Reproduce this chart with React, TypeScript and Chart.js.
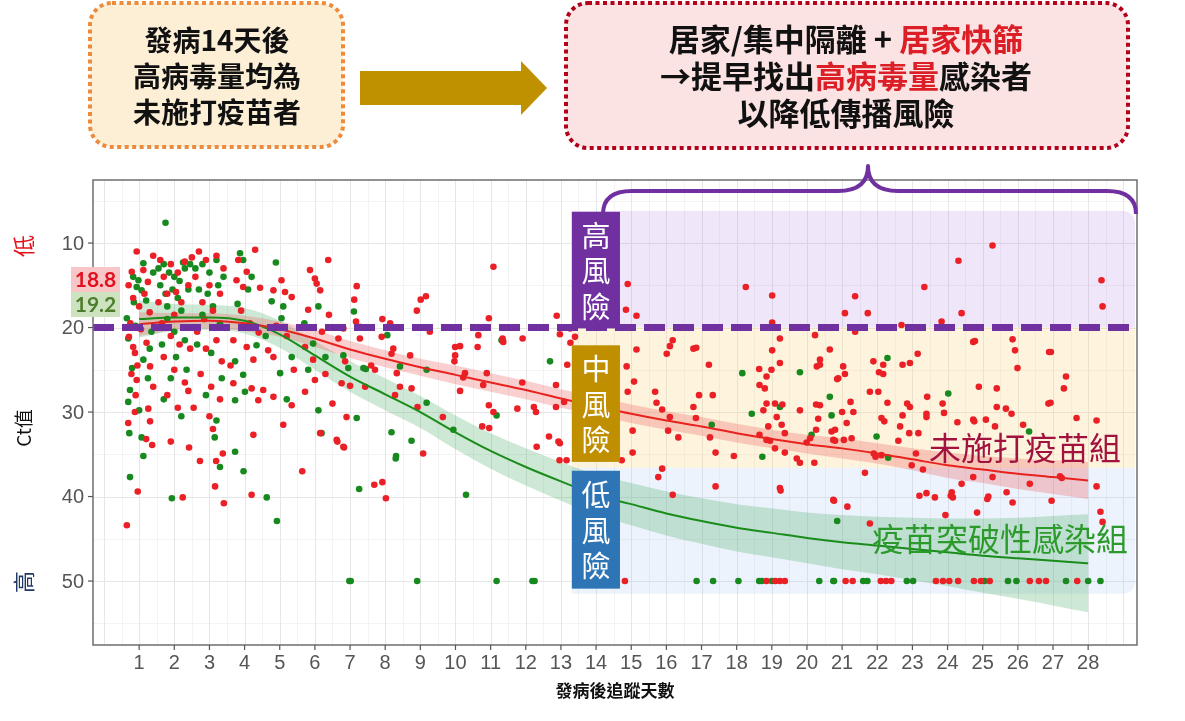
import React, { useEffect, useRef } from "react";
import { Chart, registerables } from "chart.js";

Chart.register(...registerables);

// ---------------- data ----------------
const xTickValues = [1, 2, 3, 4, 5, 6, 7, 8, 9, 10, 11, 12, 13, 14, 15, 16, 17, 18, 19, 20, 21, 22, 23, 24, 25, 26, 27, 28];
const xTickLabels = ["1", "2", "3", "4", "5", "6", "7", "8", "9", "10", "11", "12", "13", "14", "15", "16", "17", "18", "19", "20", "21", "22", "23", "24", "25", "26", "27", "28"];
const yTickValues = [10, 20, 30, 40, 50];
const yTickLabels = ["10", "20", "30", "40", "50"];

// unvaccinated (red) : [day, Ct]
const redPoints = [
  [0.93, 11.0], [1.4, 11.5], [0.79, 13.4], [1.12, 13.2], [1.25, 14.6], [0.83, 16.5], [1.0, 17.5], [0.71, 21.1], [0.83, 22.3], [0.88, 23.0],
  [1.21, 21.8], [1.31, 24.6], [0.93, 26.2], [1.26, 29.6], [0.88, 30.0], [0.69, 31.3], [1.31, 31.1], [1.3, 18.2], [0.75, 19.5], [1.05, 20.2],
  [0.95, 24.5], [1.4, 27.0], [0.65, 43.4], [0.96, 39.4], [1.37, 33.9], [1.2, 33.2], [0.9, 28.0], [0.7, 15.0], [1.15, 16.0], [0.78, 25.5],
  [1.6, 12.0], [1.9, 12.5], [2.3, 12.2], [2.5, 11.7], [1.7, 14.0], [2.1, 13.5], [2.4, 15.0], [1.8, 16.0], [2.2, 17.0], [2.0, 18.5],
  [1.65, 19.5], [2.35, 20.0], [1.9, 21.0], [2.15, 22.0], [2.45, 22.5], [1.7, 23.5], [2.0, 25.0], [2.3, 26.5], [1.8, 28.0], [2.1, 29.5],
  [1.9, 33.5], [2.24, 40.1], [2.42, 34.2], [2.4, 27.5], [1.55, 17.0], [2.05, 15.8],
  [2.7, 11.0], [2.9, 12.0], [3.2, 11.5], [3.4, 13.0], [2.6, 14.0], [3.0, 15.0], [3.3, 16.0], [2.8, 17.0], [3.1, 18.0], [2.65, 20.5],
  [3.2, 21.5], [2.9, 22.5], [3.35, 24.0], [2.75, 25.5], [3.05, 27.0], [3.3, 28.5], [2.73, 35.8], [3.16, 38.8], [3.19, 35.8], [3.38, 34.9],
  [3.41, 40.8], [3.0, 30.5], [2.85, 19.0], [2.55, 29.5], [3.1, 32.0],
  [3.82, 12.0], [4.3, 10.8], [3.77, 14.4], [4.06, 13.4], [3.96, 15.2], [4.44, 15.3], [3.68, 21.5], [4.06, 22.3], [4.25, 23.8], [4.2, 27.2],
  [3.68, 26.6], [4.39, 28.6], [4.25, 32.7], [4.2, 39.8], [3.9, 18.0], [4.15, 19.5], [3.6, 24.5], [4.4, 20.6],
  [4.82, 15.6], [5.05, 14.4], [5.15, 15.8], [5.34, 16.4], [4.82, 23.5], [4.67, 22.7], [4.53, 27.4], [4.82, 28.2], [5.34, 29.2], [5.64, 37.0],
  [5.2, 21.0], [4.9, 19.8], [5.4, 25.0], [5.1, 31.5],
  [5.86, 13.2], [6.0, 14.2], [6.15, 15.6], [6.05, 14.8], [5.81, 17.9], [6.38, 12.0], [5.72, 22.3], [5.95, 23.8], [6.0, 26.2], [5.72, 27.6],
  [6.15, 32.5], [6.2, 20.5], [6.4, 18.5], [6.3, 25.5], [6.64, 33.5], [6.83, 34.2], [6.5, 29.0],
  [7.19, 15.1], [7.12, 16.7], [7.17, 19.3], [7.28, 19.9], [7.28, 21.3], [6.81, 20.1], [6.67, 21.3], [6.86, 24.0], [6.76, 26.6], [7.0, 26.9],
  [7.43, 27.0], [6.9, 30.6], [6.62, 33.3], [6.81, 34.1], [7.69, 38.6], [7.92, 38.3], [8.02, 40.2], [7.6, 24.5],
  [7.92, 19.0], [8.14, 19.5], [7.9, 21.1], [8.23, 22.5], [8.18, 23.1], [8.33, 25.4], [8.42, 27.0], [8.28, 28.0], [8.75, 27.2], [8.71, 23.3],
  [7.71, 25.0], [8.9, 18.0],
  [9.01, 16.7], [9.16, 16.3], [9.08, 34.9], [9.27, 20.5], [8.92, 29.4], [9.64, 30.6],
  [9.99, 22.3], [10.13, 22.2], [9.99, 23.3], [9.97, 24.0], [10.27, 25.4], [10.22, 25.9], [10.13, 27.5], [10.65, 20.9], [10.63, 22.3], [10.89, 25.4],
  [10.79, 26.8],
  [10.95, 29.2], [11.08, 30.0], [10.76, 31.7], [10.96, 31.9], [11.08, 12.8], [10.95, 18.9], [11.34, 21.3], [11.36, 21.7],
  [11.91, 21.3], [11.9, 26.5], [11.76, 29.6], [12.23, 29.4], [12.29, 30.0], [12.31, 34.1], [12.66, 32.9],
  [12.93, 33.5], [12.96, 35.7], [12.86, 26.8], [12.86, 29.4], [12.88, 18.6], [12.97, 20.8], [13.18, 24.4], [13.26, 20.1], [13.4, 21.1], [13.27, 21.8],
  [13.09, 28.8], [12.97, 33.7], [13.16, 35.7],
  [14.73, 35.7], [14.9, 14.85], [14.85, 17.9], [15.15, 18.6], [14.87, 24.6], [15.15, 22.6], [15.08, 26.4], [14.9, 27.6], [15.04, 32.2], [15.04, 34.8],
  [16.18, 21.5], [16.1, 22.2], [16.01, 23.1], [15.68, 27.6], [15.72, 28.9], [15.88, 29.7], [16.1, 30.6], [16.05, 32.2], [16.34, 33.0], [15.88, 36.7],
  [15.77, 37.7], [16.18, 39.8],
  [16.77, 22.5], [16.85, 22.4], [17.21, 24.4], [16.93, 28.0], [17.32, 28.0], [16.77, 29.4], [16.84, 30.7], [17.24, 33.0], [17.4, 34.8], [17.4, 38.8],
  [17.92, 35.2], [18.26, 15.2], [18.64, 24.9], [18.85, 25.8], [18.65, 26.8], [18.8, 27.2], [18.85, 29.0], [18.76, 29.8], [18.9, 31.7], [18.65, 32.7],
  [18.85, 33.3],
  [19.01, 16.2], [19.01, 19.4], [19.23, 21.3], [19.01, 22.7], [18.99, 25.0], [19.23, 24.2], [19.09, 29.0], [19.3, 29.1], [19.14, 30.6], [18.95, 33.4],
  [19.37, 32.5], [19.28, 31.5], [19.09, 34.3], [19.37, 34.8], [19.23, 39.0], [19.25, 39.3], [19.71, 35.5], [19.8, 36.0], [19.8, 29.8],
  [20.21, 36.0], [19.99, 33.6], [20.09, 33.1], [20.26, 32.1], [20.32, 30.8], [20.26, 29.1], [20.37, 29.2], [20.28, 24.6], [20.37, 24.4], [20.37, 23.8],
  [20.65, 22.6], [20.23, 20.9], [20.75, 40.4], [20.86, 26.1], [20.7, 32.3], [20.75, 33.3], [20.8, 33.4], [20.8, 32.1], [20.77, 40.5],
  [21.08, 18.3], [21.37, 16.3], [21.73, 18.3], [21.37, 20.5], [21.03, 24.6], [21.08, 25.5], [20.89, 26.0], [21.24, 28.8], [21.32, 30.0], [21.0, 30.0],
  [21.13, 31.3], [21.27, 33.1], [21.05, 33.3], [21.65, 37.2], [21.15, 41.2], [21.79, 43.2], [21.79, 27.6], [21.89, 24.0],
  [22.17, 24.4], [22.17, 25.5], [22.05, 25.3], [22.03, 27.6], [22.29, 28.9], [22.12, 30.7], [22.2, 31.1], [22.12, 35.1], [21.95, 35.3], [21.9, 34.9],
  [22.69, 19.7], [22.72, 24.4], [22.93, 24.2], [22.72, 30.4], [22.65, 31.7], [22.6, 33.4], [22.91, 32.5], [22.93, 29.4], [22.85, 29.0], [22.98, 36.3],
  [23.34, 15.2], [23.15, 23.1], [23.42, 28.2], [23.4, 30.2], [23.4, 30.6], [23.17, 32.5], [23.1, 34.9], [23.3, 36.8], [23.2, 39.9], [23.4, 39.6],
  [23.64, 40.1], [23.83, 19.3], [23.86, 29.0], [23.9, 30.1], [23.94, 42.2],
  [24.31, 12.1], [24.4, 18.3], [24.09, 39.9], [24.15, 40.1], [24.12, 39.5], [24.4, 38.5], [24.28, 31.2], [24.73, 21.7], [24.78, 21.6], [24.89, 27.0],
  [24.73, 30.9], [24.76, 31.1], [24.73, 37.7], [24.84, 41.9],
  [25.28, 10.3], [25.4, 27.2], [25.4, 29.4], [25.66, 29.6], [25.82, 30.2], [25.09, 30.9], [25.35, 31.7], [25.28, 37.7], [25.13, 40.3], [25.16, 40.0],
  [25.68, 39.5], [25.85, 40.7], [25.85, 21.4],
  [25.92, 22.7], [25.99, 24.8], [26.15, 31.5], [26.34, 38.5], [26.89, 22.9], [26.94, 22.9], [26.87, 29.0], [26.93, 28.9], [26.96, 40.5],
  [27.37, 25.8], [27.31, 27.2], [27.67, 30.7], [27.2, 37.6], [27.25, 37.8], [28.24, 31.0], [28.24, 38.8], [28.35, 41.8], [28.41, 43.0], [28.38, 14.4],
  [28.41, 17.5],
  [14.82, 50], [18.85, 50], [19.1, 50], [19.23, 50], [19.37, 50], [21.1, 50], [21.3, 50], [22.1, 50], [22.25, 50], [22.4, 50],
  [23.67, 50], [23.87, 50], [24.05, 50], [24.3, 50], [24.75, 50], [24.95, 50], [25.2, 50], [26.34, 50], [26.6, 50], [26.8, 50], [27.69, 50],
];

// vaccine breakthrough (green) : [day, Ct]
const greenPoints = [
  [1.12, 12.4], [0.83, 14.0], [0.98, 14.4], [0.93, 15.2], [1.07, 15.6], [1.2, 16.8], [0.65, 18.9], [0.69, 21.3], [1.12, 23.8], [0.74, 27.4],
  [0.69, 28.8], [1.07, 33.0], [0.74, 37.7], [1.12, 35.2], [0.9, 19.8], [1.35, 20.5], [0.8, 24.8], [1.25, 26.0], [0.72, 32.5], [1.0, 29.8],
  [1.3, 22.5], [0.85, 17.0], [1.4, 13.5],
  [1.75, 7.6], [1.55, 13.0], [1.7, 12.5], [1.85, 13.5], [2.0, 14.0], [2.15, 14.5], [2.3, 13.0], [1.6, 15.0], [1.75, 16.0], [1.95, 15.5],
  [2.1, 16.5], [2.4, 15.5], [2.2, 18.0], [1.8, 19.0], [2.0, 20.5], [1.65, 22.0], [2.3, 21.5], [2.05, 23.5], [1.9, 26.0], [2.35, 25.0],
  [1.7, 28.5], [2.2, 30.5], [1.93, 40.2], [2.45, 12.5], [1.8, 17.5], [2.25, 12.3],
  [2.6, 13.0], [2.8, 12.5], [3.0, 13.5], [3.2, 12.0], [3.4, 14.0], [2.7, 15.5], [2.95, 16.0], [3.25, 15.0], [3.1, 17.5], [2.8, 18.5],
  [3.3, 19.5], [2.65, 22.0], [3.05, 23.0], [3.35, 26.0], [2.9, 28.0], [3.2, 31.0], [3.3, 36.5], [3.15, 33.0], [3.73, 34.7],
  [3.87, 11.2], [3.96, 12.0], [4.2, 14.0], [4.1, 15.5], [3.73, 24.0], [3.96, 25.6], [4.01, 27.6], [3.73, 28.6], [4.34, 22.1], [3.97, 37.0],
  [4.63, 40.1], [3.8, 17.2],
  [4.89, 12.3], [4.77, 16.9], [5.1, 17.5], [5.05, 18.9], [5.34, 23.5], [5.01, 25.4], [4.92, 42.9], [4.6, 21.0], [5.2, 28.5],
  [6.1, 17.5], [5.95, 21.9], [5.81, 25.0], [6.1, 29.8], [6.19, 32.5], [5.7, 19.5], [6.3, 23.5],
  [7.11, 18.1], [6.81, 23.3], [6.95, 24.8], [7.38, 24.8], [7.45, 24.9], [7.19, 30.7], [7.26, 39.1], [6.98, 50], [7.02, 50],
  [8.06, 20.9], [8.42, 24.6], [8.18, 32.4], [8.75, 33.4], [8.31, 35.2], [8.3, 35.5], [8.91, 50],
  [9.18, 25.0], [9.18, 28.9], [9.94, 32.1], [10.3, 39.8], [11.31, 21.5], [11.17, 30.4], [12.69, 24.0], [11.17, 50], [12.19, 50], [12.25, 50],
  [18.16, 25.4], [18.43, 30.2], [17.29, 31.5], [18.73, 35.3], [19.23, 29.4], [19.8, 25.3], [20.13, 32.7], [20.65, 28.2], [20.7, 30.4], [20.86, 42.9],
  [22.29, 23.6], [24.02, 27.8], [26.32, 32.3], [21.98, 32.9], [22.31, 35.4],
  [16.86, 50], [17.33, 50], [18.05, 50], [18.64, 50], [18.72, 50], [19.0, 50], [20.35, 50], [20.75, 50], [20.77, 50], [21.6, 50],
  [21.72, 50], [22.84, 50], [23.02, 50], [25.05, 50], [25.72, 50], [25.96, 50], [27.37, 50], [28.0, 50], [28.35, 50],
];

// smoothed fits with confidence bands
const fitDays = [1, 2, 3, 4, 5, 6, 7, 8, 9, 10, 11, 12, 13, 14, 15, 16, 17, 18, 19, 20, 21, 22, 23, 24, 25, 26, 27, 28];
const redFit = [19.6, 19.3, 19.2, 19.5, 20.2, 21.3, 22.6, 23.7, 24.7, 25.6, 26.5, 27.4, 28.4, 29.3, 30.2, 31.0, 31.7, 32.5, 33.2, 33.8, 34.3, 34.9, 35.6, 36.3, 36.8, 37.3, 37.7, 38.1];
const redLo = [18.2, 18.3, 18.3, 18.6, 19.3, 20.3, 21.6, 22.7, 23.7, 24.5, 25.4, 26.3, 27.3, 28.2, 29.1, 29.9, 30.6, 31.4, 32.1, 32.7, 33.1, 33.7, 34.3, 34.8, 35.2, 35.5, 35.7, 35.9];
const redHi = [21.0, 20.3, 20.1, 20.4, 21.1, 22.3, 23.6, 24.7, 25.7, 26.7, 27.6, 28.5, 29.5, 30.4, 31.3, 32.1, 32.8, 33.6, 34.3, 34.9, 35.5, 36.1, 36.9, 37.8, 38.4, 39.1, 39.7, 40.3];
const greenFit = [19.0, 18.8, 18.8, 19.2, 20.8, 23.3, 25.8, 27.9, 30.0, 32.4, 34.6, 36.5, 38.2, 39.8, 40.9, 42.0, 42.9, 43.7, 44.3, 44.9, 45.4, 45.8, 46.2, 46.6, 47.0, 47.3, 47.6, 47.9];
const greenLo = [16.8, 17.2, 17.3, 17.7, 19.2, 21.6, 24.0, 26.0, 28.1, 30.4, 32.5, 34.3, 35.9, 37.4, 38.4, 39.4, 40.2, 40.9, 41.4, 41.9, 42.2, 42.4, 42.5, 42.6, 42.6, 42.5, 42.3, 42.1];
const greenHi = [21.2, 20.4, 20.3, 20.7, 22.4, 25.0, 27.6, 29.8, 31.9, 34.4, 36.7, 38.7, 40.5, 42.2, 43.4, 44.6, 45.6, 46.5, 47.2, 47.9, 48.6, 49.2, 49.9, 50.6, 51.4, 52.1, 52.9, 53.7];

// risk zones (Ct values) and threshold
const thresholdCt = 20;
const riskNames = ["高風險", "中風險", "低風險"];
const riskZoneEdges = [6.2, 20, 36.6, 51.5];
const riskLabelTop = [6.3, 22.1, 36.95];
const riskLabelBottom = [20.1, 35.9, 50.9];
const riskLabelDays = [13.31, 14.68];

// ---------------- styling ----------------
const CJK = '"Noto Sans CJK TC", "Noto Sans CJK SC", sans-serif';
const NUM = '"Liberation Sans", Arial, sans-serif';
const RED = "#ea2026";
const GREEN = "#17891f";
const PURPLE = "#7030a0";
const riskColors = ["#7030a0", "#bf8f00", "#2e75b6"];
const zoneFills = ["rgba(185,140,230,0.22)", "rgba(250,215,130,0.27)", "rgba(170,200,240,0.22)"];

function line(ctx: any, x1: number, y1: number, x2: number, y2: number) {
  ctx.beginPath();
  ctx.moveTo(x1, y1);
  ctx.lineTo(x2, y2);
  ctx.stroke();
}

function drawSegments(ctx: any, cx: number, cy: number, segs: [string, string][]) {
  let total = 0;
  for (const [t] of segs) total += ctx.measureText(t).width;
  let x = cx - total / 2;
  ctx.textAlign = "left";
  ctx.textBaseline = "middle";
  for (const [t, c] of segs) {
    ctx.fillStyle = c;
    ctx.fillText(t, x, cy);
    x += ctx.measureText(t).width;
  }
}

function dottedBox(ctx: any, x: number, y: number, w: number, h: number, r: number, fill: string, stroke: string) {
  ctx.save();
  ctx.beginPath();
  ctx.roundRect(x, y, w, h, r);
  ctx.fillStyle = fill;
  ctx.fill();
  ctx.setLineDash([4, 3.5]);
  ctx.lineWidth = 4;
  ctx.strokeStyle = stroke;
  ctx.stroke();
  ctx.restore();
}

const decorPlugin = {
  id: "decor",
  beforeDatasetsDraw(chart: any) {
    const { ctx, chartArea: a } = chart;
    const xs = chart.scales.x;
    const ys = chart.scales.y;
    ctx.save();
    ctx.fillStyle = "#ffffff";
    ctx.fillRect(a.left, a.top, a.right - a.left, a.bottom - a.top);
    ctx.beginPath();
    ctx.rect(a.left, a.top, a.right - a.left, a.bottom - a.top);
    ctx.clip();
    ctx.lineWidth = 1;
    // minor grid
    ctx.strokeStyle = "#f3f3f3";
    for (let v = 0.5; v < 29.4; v += 1) {
      const p = Math.round(xs.getPixelForValue(v)) + 0.5;
      line(ctx, p, a.top, p, a.bottom);
    }
    for (let v = 5; v < 58; v += 10) {
      const p = Math.round(ys.getPixelForValue(v)) + 0.5;
      line(ctx, a.left, p, a.right, p);
    }
    // major grid
    ctx.strokeStyle = "#e6e6e6";
    for (let v = 0; v < 29.4; v += 1) {
      const p = Math.round(xs.getPixelForValue(v)) + 0.5;
      line(ctx, p, a.top, p, a.bottom);
    }
    for (const v of yTickValues) {
      const p = Math.round(ys.getPixelForValue(v)) + 0.5;
      line(ctx, a.left, p, a.right, p);
    }
    // risk zones
    const zx0 = xs.getPixelForValue(riskLabelDays[0]);
    const zx1 = a.right - 2;
    for (let i = 0; i < 3; i++) {
      const y0 = ys.getPixelForValue(riskZoneEdges[i]);
      const y1 = ys.getPixelForValue(riskZoneEdges[i + 1]);
      ctx.fillStyle = zoneFills[i];
      ctx.beginPath();
      const radii = i === 0 ? [0, 12, 0, 0] : i === 2 ? [0, 0, 12, 0] : 0;
      ctx.roundRect(zx0, y0, zx1 - zx0, y1 - y0, radii);
      ctx.fill();
    }
    ctx.restore();
  },
  afterDatasetsDraw(chart: any) {
    const { ctx, chartArea: a } = chart;
    const xs = chart.scales.x;
    const ys = chart.scales.y;
    ctx.save();
    // threshold dashed line
    const ty = ys.getPixelForValue(thresholdCt);
    ctx.strokeStyle = PURPLE;
    ctx.lineWidth = 7;
    ctx.setLineDash([21, 8]);
    line(ctx, a.left, ty, a.right, ty);
    ctx.setLineDash([]);

    // risk labels
    const lx0 = xs.getPixelForValue(riskLabelDays[0]);
    const lx1 = xs.getPixelForValue(riskLabelDays[1]);
    for (let i = 0; i < 3; i++) {
      const y0 = ys.getPixelForValue(riskLabelTop[i]);
      const y1 = ys.getPixelForValue(riskLabelBottom[i]);
      ctx.fillStyle = riskColors[i];
      ctx.fillRect(lx0, y0, lx1 - lx0, y1 - y0);
      ctx.fillStyle = "#ffffff";
      ctx.font = `29px ${CJK}`;
      ctx.textAlign = "center";
      ctx.textBaseline = "middle";
      const cx = (lx0 + lx1) / 2;
      const cy = (y0 + y1) / 2;
      const chars = Array.from(riskNames[i]);
      chars.forEach((c, k) => ctx.fillText(c, cx, cy + (k - 1) * 35.5 + 1));
    }

    // series labels
    ctx.font = `32px ${CJK}`;
    ctx.textAlign = "center";
    ctx.textBaseline = "middle";
    ctx.fillStyle = "#a3123f";
    ctx.fillText("未施打疫苗組", 1025, 448);
    ctx.fillStyle = "#2b9a2b";
    ctx.fillText("疫苗突破性感染組", 1000, 539);
    ctx.restore();
  },
  afterDraw(chart: any) {
    const { ctx, chartArea: a } = chart;
    const xs = chart.scales.x;
    const ys = chart.scales.y;
    ctx.save();
    // panel border
    ctx.strokeStyle = "#6e6e6e";
    ctx.lineWidth = 1.5;
    ctx.strokeRect(a.left, a.top, a.right - a.left, a.bottom - a.top);

    // ticks
    ctx.strokeStyle = "#555";
    ctx.lineWidth = 1.2;
    ctx.fillStyle = "#555";
    ctx.font = `20px ${NUM}`;
    ctx.textAlign = "center";
    ctx.textBaseline = "middle";
    xTickValues.forEach((v, i) => {
      const p = xs.getPixelForValue(v);
      line(ctx, p, a.bottom, p, a.bottom + 5);
      ctx.fillText(xTickLabels[i], p, a.bottom + 18);
    });
    ctx.textAlign = "right";
    yTickValues.forEach((v, i) => {
      const p = ys.getPixelForValue(v);
      line(ctx, a.left - 5, p, a.left, p);
      ctx.fillText(yTickLabels[i], a.left - 9, p + 1);
    });

    // axis titles
    ctx.fillStyle = "#111";
    ctx.font = `bold 17px ${CJK}`;
    ctx.textAlign = "center";
    ctx.fillText("發病後追蹤天數", (a.left + a.right) / 2, 691);

    const rotText = (t: string, x: number, y: number, font: string, color: string) => {
      ctx.save();
      ctx.translate(x, y);
      ctx.rotate(-Math.PI / 2);
      ctx.font = font;
      ctx.fillStyle = color;
      ctx.textAlign = "center";
      ctx.textBaseline = "middle";
      ctx.fillText(t, 0, 0);
      ctx.restore();
    };
    rotText("低", 24, 246, `22px ${CJK}`, "#e4141e");
    rotText("Ct值", 24, 428, `19px ${CJK}`, "#111");
    rotText("高", 24, 582, `22px ${CJK}`, "#1f3864");

    // 18.8 / 19.2 tags
    ctx.fillStyle = "#f8c6c6";
    ctx.fillRect(71, 267, 49, 25);
    ctx.fillStyle = "#cde3bf";
    ctx.fillRect(71, 292, 49, 25);
    ctx.font = `bold 21px Lato, ${NUM}`;
    ctx.textAlign = "center";
    ctx.textBaseline = "middle";
    ctx.fillStyle = "#e0101e";
    ctx.fillText("18.8", 95.5, 280);
    ctx.fillStyle = "#4d7d2c";
    ctx.fillText("19.2", 95.5, 305);

    // brace
    ctx.strokeStyle = PURPLE;
    ctx.lineWidth = 4;
    ctx.lineJoin = "round";
    ctx.beginPath();
    ctx.moveTo(603, 214);
    ctx.quadraticCurveTo(603, 191, 632, 191);
    ctx.lineTo(838, 191);
    ctx.quadraticCurveTo(868, 191, 868, 166);
    ctx.quadraticCurveTo(868, 191, 898, 191);
    ctx.lineTo(1107, 191);
    ctx.quadraticCurveTo(1136, 191, 1136, 214);
    ctx.stroke();

    // top-left box
    dottedBox(ctx, 90, 3, 253, 144, 22, "#fdefd6", "#ee8a3c");
    ctx.font = `bold 28px ${CJK}`;
    drawSegments(ctx, 217, 40, [["發病14天後", "#111"]]);
    drawSegments(ctx, 217, 76, [["高病毒量均為", "#111"]]);
    drawSegments(ctx, 217, 112, [["未施打疫苗者", "#111"]]);

    // arrow
    ctx.fillStyle = "#bf9000";
    ctx.beginPath();
    ctx.moveTo(360, 71);
    ctx.lineTo(521, 71);
    ctx.lineTo(521, 61);
    ctx.lineTo(547, 88);
    ctx.lineTo(521, 115);
    ctx.lineTo(521, 105);
    ctx.lineTo(360, 105);
    ctx.closePath();
    ctx.fill();

    // top-right box
    dottedBox(ctx, 566, 3, 562, 145, 22, "#fce3e3", "#b3001b");
    ctx.font = `bold 31px ${CJK}`;
    const R = "#dc1f26";
    const K = "#111";
    drawSegments(ctx, 846, 39, [["居家/集中隔離 + ", K], ["居家快篩", R]]);
    drawSegments(ctx, 846, 76, [["→提早找出", K], ["高病毒量", R], ["感染者", K]]);
    drawSegments(ctx, 846, 113, [["以降低傳播風險", K]]);
    ctx.restore();
  },
};

const toXY = (xs: number[], ys: number[]) => xs.map((x, i) => ({ x, y: ys[i] }));

export default function App() {
  const ref = useRef<HTMLCanvasElement>(null);
  useEffect(() => {
    const canvas = ref.current as HTMLCanvasElement;
    const lineBase = {
      type: "line",
      pointRadius: 0,
      cubicInterpolationMode: "monotone",
      tension: 0.4,
    };
    const chart = new Chart(canvas, {
      type: "scatter",
      data: {
        datasets: [
          { ...lineBase, label: "未施打疫苗組 fit", data: toXY(fitDays, redFit), borderColor: "#e8231f", borderWidth: 2, fill: false, order: 1 },
          { ...lineBase, label: "疫苗突破性感染組 fit", data: toXY(fitDays, greenFit), borderColor: "#1a8c1a", borderWidth: 2, fill: false, order: 2 },
          { type: "scatter", label: "未施打疫苗組", data: redPoints.map(([x, y]) => ({ x, y })), pointBackgroundColor: RED, pointBorderWidth: 0, pointBorderColor: RED, pointRadius: 3.3, order: 3 },
          { type: "scatter", label: "疫苗突破性感染組", data: greenPoints.map(([x, y]) => ({ x, y })), pointBackgroundColor: GREEN, pointBorderWidth: 0, pointBorderColor: GREEN, pointRadius: 3.3, order: 4 },
          { ...lineBase, label: "red hi", data: toXY(fitDays, redHi), borderColor: "transparent", borderWidth: 1, fill: false, order: 5 },
          { ...lineBase, label: "red lo", data: toXY(fitDays, redLo), borderColor: "transparent", borderWidth: 1, fill: "-1", backgroundColor: "rgba(240,95,95,0.3)", order: 5 },
          { ...lineBase, label: "green hi", data: toXY(fitDays, greenHi), borderColor: "transparent", borderWidth: 1, fill: false, order: 6 },
          { ...lineBase, label: "green lo", data: toXY(fitDays, greenLo), borderColor: "transparent", borderWidth: 1, fill: "-1", backgroundColor: "rgba(70,170,95,0.27)", order: 6 },
        ] as any,
      },
      options: {
        responsive: false,
        animation: false,
        devicePixelRatio: 1,
        events: [],
        layout: { padding: { left: 93, right: 48, top: 180, bottom: 76 } },
        scales: {
          x: { type: "linear", min: -0.313, max: 29.39, display: false },
          y: { type: "linear", reverse: true, min: 2.54, max: 57.57, display: false },
        },
        plugins: {
          legend: { display: false },
          tooltip: { enabled: false },
          title: { display: false },
        },
      } as any,
      plugins: [decorPlugin as any],
    });
    return () => chart.destroy();
  }, []);
  return (
    <canvas
      ref={ref}
      width={1185}
      height={721}
      style={{ position: "absolute", left: 0, top: 0, width: 1185, height: 721, background: "#fff" }}
    />
  );
}
